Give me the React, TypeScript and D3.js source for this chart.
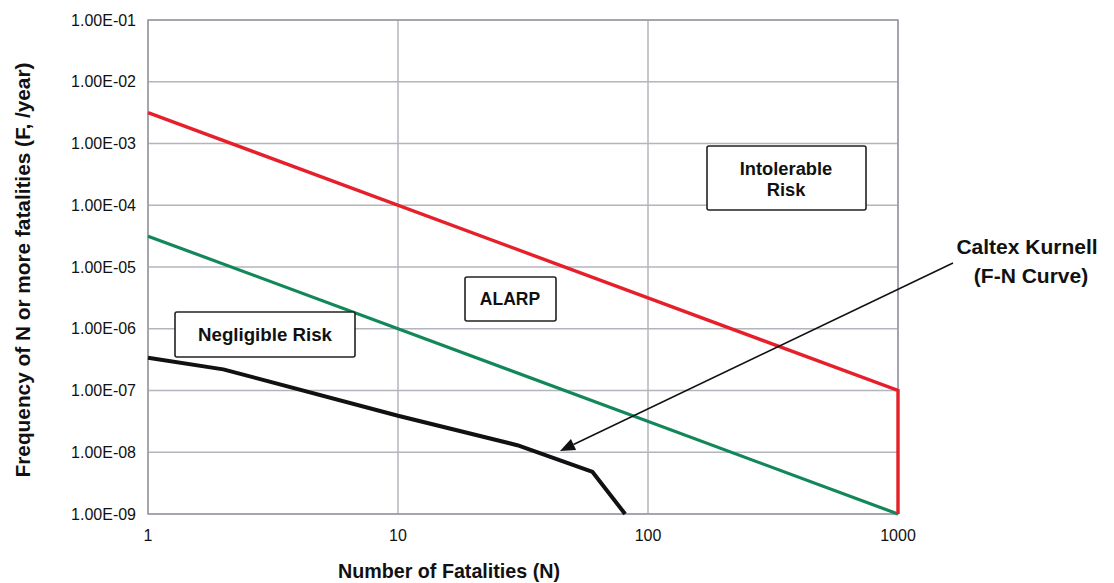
import React from "react";
import * as d3 from "d3";

const xTicks = [1, 10, 100, 1000];
const xTickLabels = ["1", "10", "100", "1000"];
const yTicks = [1e-1, 1e-2, 1e-3, 1e-4, 1e-5, 1e-6, 1e-7, 1e-8, 1e-9];
const yTickLabels = ["1.00E-01", "1.00E-02", "1.00E-03", "1.00E-04", "1.00E-05", "1.00E-06", "1.00E-07", "1.00E-08", "1.00E-09"];

// Upper (intolerable) criterion line
const upperN = [1, 1000, 1000];
const upperF = [3.16e-3, 1e-7, 1e-9];
// Lower (negligible) criterion line
const lowerN = [1, 1000];
const lowerF = [3.16e-5, 1e-9];
// Caltex Kurnell F-N curve
const curveN = [1, 2, 10, 30, 60, 81];
const curveF = [3.4e-7, 2.2e-7, 3.9e-8, 1.3e-8, 4.8e-9, 1e-9];

const W = 1114;
const H = 583;
const M = { left: 148, right: 898, top: 20, bottom: 514 };
const FONT = "'Liberation Sans', Arial, Helvetica, sans-serif";

export default function App() {
  const x = d3.scaleLog().domain([1, 1000]).range([M.left, M.right]);
  const y = d3.scaleLog().domain([1e-9, 1e-1]).range([M.bottom, M.top]);
  const line = d3
    .line<[number, number]>()
    .x((d) => x(d[0]))
    .y((d) => y(d[1]));

  const upper = upperN.map((n, i) => [n, upperF[i]] as [number, number]);
  const lower = lowerN.map((n, i) => [n, lowerF[i]] as [number, number]);
  const curve = curveN.map((n, i) => [n, curveF[i]] as [number, number]);

  const gridColor = "#b4b4bc";

  // arrow geometry
  const ax1 = 953, ay1 = 263, ax2 = 560, ay2 = 451;
  const ang = Math.atan2(ay2 - ay1, ax2 - ax1);
  const headLen = 15, headHalf = 6;
  const bx = ax2 - headLen * Math.cos(ang);
  const by = ay2 - headLen * Math.sin(ang);
  const px = -Math.sin(ang) * headHalf;
  const py = Math.cos(ang) * headHalf;

  return (
    <svg
      width={W}
      height={H}
      style={{ position: "absolute", left: 0, top: 0, background: "#fff" }}
      fontFamily={FONT}
    >
      <rect x={0} y={0} width={W} height={H} fill="#fff" />
      {/* grid */}
      {yTicks.map((t) => (
        <line key={"gy" + t} x1={M.left} x2={M.right} y1={y(t)} y2={y(t)} stroke={gridColor} strokeWidth={1.5} />
      ))}
      {xTicks.map((t) => (
        <line key={"gx" + t} x1={x(t)} x2={x(t)} y1={M.top} y2={M.bottom} stroke={gridColor} strokeWidth={1.5} />
      ))}
      <rect x={M.left} y={M.top} width={M.right - M.left} height={M.bottom - M.top} fill="none" stroke="#9a9aa2" strokeWidth={1.5} />

      {/* y tick labels */}
      {yTicks.map((t, i) => (
        <text key={"yl" + t} x={136} y={y(t)} dy="0.35em" textAnchor="end" fontSize={16} fill="#111">
          {yTickLabels[i]}
        </text>
      ))}
      {/* x tick labels */}
      {xTicks.map((t, i) => (
        <text key={"xl" + t} x={x(t)} y={541} textAnchor="middle" fontSize={16} fill="#111">
          {xTickLabels[i]}
        </text>
      ))}

      {/* axis titles */}
      <text x={449} y={578} textAnchor="middle" fontSize={19.7} fontWeight="bold" fill="#111">
        Number of Fatalities  (N)
      </text>
      <text
        transform={`translate(30, 270) rotate(-90)`}
        textAnchor="middle"
        fontSize={20.8}
        fontWeight="bold"
        fill="#111"
      >
        Frequency of N or more fatalities (F, /year)
      </text>

      {/* criterion lines */}
      <path d={line(lower) || ""} fill="none" stroke="#12875a" strokeWidth={3.2} />
      <path d={line(upper) || ""} fill="none" stroke="#e5202a" strokeWidth={3.4} />
      <path d={line(curve) || ""} fill="none" stroke="#111" strokeWidth={4} strokeLinejoin="round" />

      {/* arrow */}
      <line x1={ax1} y1={ay1} x2={bx} y2={by} stroke="#111" strokeWidth={1.5} />
      <polygon
        points={`${ax2},${ay2} ${bx + px},${by + py} ${bx - px},${by - py}`}
        fill="#111"
      />

      {/* boxes */}
      <rect x={707} y={146} width={159} height={64} rx={2} fill="#fff" stroke="#222" strokeWidth={1.6} />
      <text x={786} y={175} textAnchor="middle" fontSize={18.3} fontWeight="bold" fill="#111">Intolerable</text>
      <text x={786} y={196} textAnchor="middle" fontSize={18.3} fontWeight="bold" fill="#111">Risk</text>

      <rect x={465} y={277} width={91} height={44} rx={2} fill="#fff" stroke="#222" strokeWidth={1.6} />
      <text x={510} y={305} textAnchor="middle" fontSize={17.5} fontWeight="bold" fill="#111">ALARP</text>

      <rect x={175} y={312} width={180} height={45} rx={2} fill="#fff" stroke="#222" strokeWidth={1.6} />
      <text x={265} y={341} textAnchor="middle" fontSize={18.7} fontWeight="bold" fill="#111">Negligible Risk</text>

      {/* annotation */}
      <text x={1027} y={254} textAnchor="middle" fontSize={21} fontWeight="bold" fill="#111">Caltex Kurnell</text>
      <text x={1031} y={283} textAnchor="middle" fontSize={21} fontWeight="bold" fill="#111">(F-N Curve)</text>
    </svg>
  );
}
